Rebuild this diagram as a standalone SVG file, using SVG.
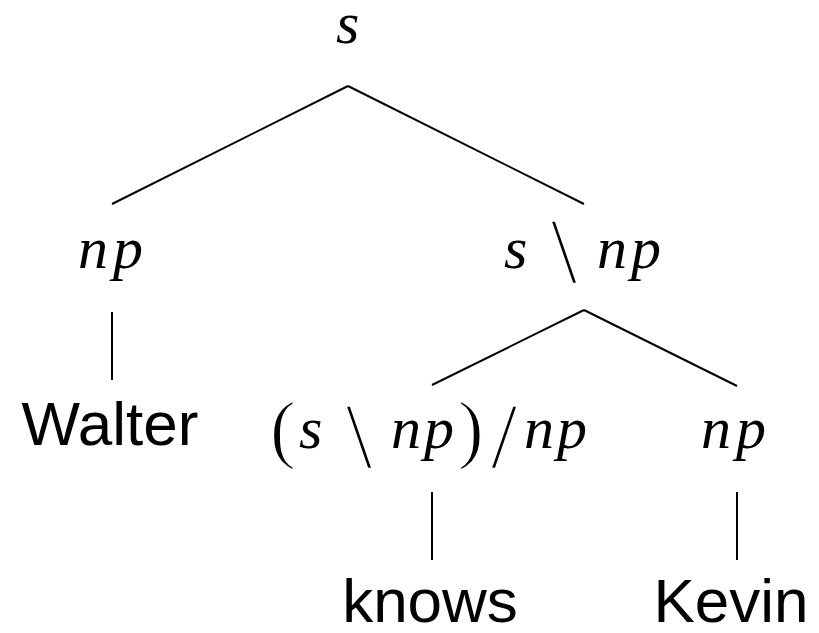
<svg xmlns="http://www.w3.org/2000/svg" width="819" height="633" viewBox="0 0 819 633">
<style>
.m{font-family:"Liberation Serif",serif;font-style:italic;font-size:60px;fill:#000}
.d{font-family:"Liberation Serif",serif;font-style:normal;fill:#000;stroke:#fff}
.b{font-size:94px;stroke-width:1.6}
.p{font-size:77px;stroke-width:1.4}
.w{font-family:"Liberation Sans",Arial,sans-serif;font-size:62px;fill:#000}
.e{stroke:#000;stroke-width:2;fill:none}
</style>
<rect width="819" height="633" fill="#fff"/>
<g id="connectors">
<line class="e" x1="348" y1="86" x2="112" y2="204"/>
<line class="e" x1="348" y1="86" x2="584" y2="204"/>
<line class="e" x1="112" y1="312" x2="112" y2="380"/>
<line class="e" x1="584" y1="310" x2="432" y2="385"/>
<line class="e" x1="584" y1="310" x2="737" y2="386"/>
<line class="e" x1="432" y1="492" x2="432" y2="560"/>
<line class="e" x1="737" y1="492" x2="737" y2="560"/>
</g>
<g id="n-s"><text class="m" x="336" y="43">s</text></g>
<g id="n-np1"><text class="m" y="268"><tspan x="78">n</tspan><tspan x="113">p</tspan></text></g>
<g id="n-snp">
<text class="m" y="268"><tspan x="504">s</tspan><tspan x="597">n</tspan><tspan x="631">p</tspan></text>
<text class="d b" x="551" y="282">\</text>
</g>
<g id="n-walter"><text class="w" x="110" y="445" text-anchor="middle">Walter</text></g>
<g id="n-snpnp">
<text class="m" y="448"><tspan x="299">s</tspan><tspan x="391">n</tspan><tspan x="424">p</tspan><tspan x="524">n</tspan><tspan x="557">p</tspan></text>
<text class="d p" y="454"><tspan x="270">(</tspan><tspan x="458">)</tspan></text>
<text class="d b" y="467"><tspan x="346">\</tspan><tspan x="491">/</tspan></text>
</g>
<g id="n-np2"><text class="m" y="448"><tspan x="701">n</tspan><tspan x="736">p</tspan></text></g>
<g id="n-knows"><text class="w" x="430" y="622" text-anchor="middle">knows</text></g>
<g id="n-kevin"><text class="w" x="731" y="622" text-anchor="middle">Kevin</text></g>
</svg>
